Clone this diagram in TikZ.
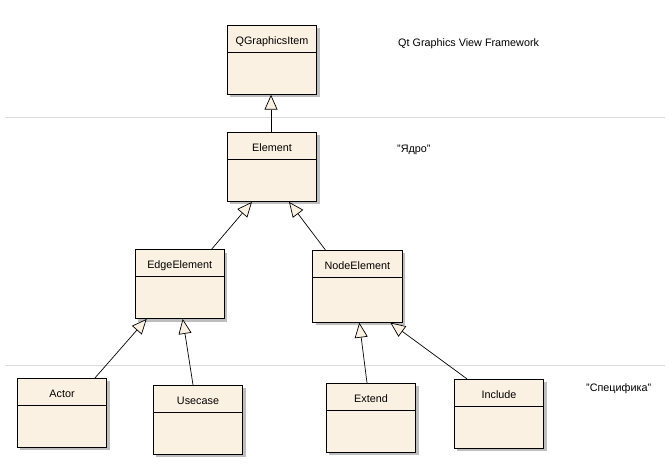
\documentclass[tikz,border=0pt]{standalone}
\usepackage{fontspec}
\setmainfont{Liberation Sans}
\usetikzlibrary{calc,arrows.meta,shadows}
\definecolor{umlfill}{RGB}{251,241,226}
\definecolor{shadowgray}{RGB}{190,190,190}
\definecolor{sepgray}{RGB}{218,218,218}

\begin{document}
\begin{tikzpicture}[x={(1pt,0pt)}, y={(0pt,-1pt)}]
%styles
\tikzstyle{classBox}=[rectangle, draw, line width=0.8pt, fill=umlfill, inner sep=0pt,
  minimum width=89.4pt, text height=19.3pt, text depth=49.7pt,
  font=\fontsize{10.8}{12}\selectfont,
  drop shadow={shadow xshift=3pt, shadow yshift=-3pt, fill=shadowgray, opacity=1},
  path picture={\draw[line width=0.8pt] ([yshift=-27pt]path picture bounding box.north west) -- ([yshift=-27pt]path picture bounding box.north east);}]
\tikzstyle{textw}=[rectangle, text=black, anchor=west, inner sep=0pt, font=\fontsize{10.8}{12}\selectfont]
\tikzstyle{inherit}=[-{Triangle[length=15pt, width=13pt, fill=umlfill]}, line width=0.7pt]
\tikzstyle{sepLine}=[sepgray, line width=0.8pt]

\useasboundingbox (0,0) rectangle (668,470);

%layers
\coordinate (s1w) at (5,117.3);
\coordinate (s1e) at (665,117.3);
\coordinate (s2w) at (5,365);
\coordinate (s2e) at (665,365);
\draw[sepLine] (s1w) -- (s1e);
\draw[sepLine] (s2w) -- (s2e);

%classes
\node[classBox] (qgi) at (272,59.8) {QGraphicsItem};
\node[classBox] (element) at (272,167) {Element};
\node[classBox] (edge) at (179.7,284) {EdgeElement};
\node[classBox, text depth=52.7pt] (nodeel) at (357.3,286.2) {NodeElement};
\node[classBox] (actor) at (62,412.8) {Actor};
\node[classBox] (usecase) at (198,419.8) {Usecase};
\node[classBox] (extend) at (371,417.8) {Extend};
\node[classBox] (include) at (499,413.8) {Include};

%texts
\node[textw] (qtfw) at (398,43.3) {Qt Graphics View Framework};
\node[textw] (core) at (397,150) {"Ядро"};
\node[textw] (spec) at (586,389) {"Специфика"};

%generalizations
\draw[inherit] ([xshift=-1pt]element.north) -- ([xshift=-1pt]qgi.south);
\draw[inherit] ([xshift=32pt]edge.north) -- ([xshift=-20pt]element.south);
\draw[inherit] ([xshift=-32pt]nodeel.north) -- ([xshift=17pt]element.south);
\draw[inherit] ([xshift=33pt]actor.north) -- ([xshift=-33pt]edge.south);
\draw[inherit] ([xshift=-5pt]usecase.north) -- ([xshift=3pt]edge.south);
\draw[inherit] ([xshift=-4pt]extend.north) -- ([xshift=2pt]nodeel.south);
\draw[inherit] ([xshift=-32pt]include.north) -- ([xshift=33pt]nodeel.south);
\end{tikzpicture}
\end{document}
